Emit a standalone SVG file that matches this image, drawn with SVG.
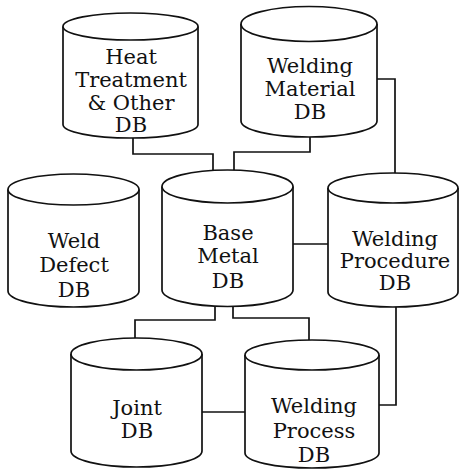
<svg xmlns="http://www.w3.org/2000/svg" width="459" height="469" viewBox="0 0 459 469">
<style>
.cyl{fill:#fff;stroke:#111;stroke-width:1.7}
.lbl{font-family:"DejaVu Serif","Liberation Serif",serif;font-size:21px;fill:#111;text-anchor:middle}
.con{fill:none;stroke:#111;stroke-width:1.7}
</style>
<rect width="459" height="469" fill="#fff"/>
<g id="connectors">
<polyline class="con" points="133,138 133,154 213,154 213,171"/>
<polyline class="con" points="310,137 310,152 234,152 234,171"/>
<polyline class="con" points="377,79 395,79 395,174"/>
<line class="con" x1="293" y1="244" x2="328" y2="244"/>
<polyline class="con" points="215,306 215,320 135,320 135,339"/>
<polyline class="con" points="233,306 233,318 309,318 309,341"/>
<polyline class="con" points="396,306 396,405 379,405"/>
<line class="con" x1="202" y1="412" x2="245" y2="412"/>
</g>
<g id="heat-treatment">
<path class="cyl" d="M63 26.5V124.5A67.5 13.5 0 0 0 198 124.5V26.5"/>
<ellipse class="cyl" cx="130.5" cy="26.5" rx="67.5" ry="13.5"/>
<text class="lbl" x="131" y="64">Heat</text>
<text class="lbl" x="131" y="87">Treatment</text>
<text class="lbl" x="131" y="110">&amp; Other</text>
<text class="lbl" x="131" y="132">DB</text>
</g>
<g id="welding-material">
<path class="cyl" d="M241 24V121A68 16 0 0 0 377 121V24"/>
<ellipse class="cyl" cx="309" cy="24" rx="68" ry="17.5"/>
<text class="lbl" x="310" y="73">Welding</text>
<text class="lbl" x="310" y="96">Material</text>
<text class="lbl" x="310" y="119">DB</text>
</g>
<g id="weld-defect">
<path class="cyl" d="M8 189.5V291A65.5 16 0 0 0 139 291V189.5"/>
<ellipse class="cyl" cx="73.5" cy="189.5" rx="65.5" ry="15.5"/>
<text class="lbl" x="74" y="248">Weld</text>
<text class="lbl" x="74" y="272">Defect</text>
<text class="lbl" x="74" y="297">DB</text>
</g>
<g id="base-metal">
<path class="cyl" d="M162 186.5V290A65.5 16.5 0 0 0 293 290V186.5"/>
<ellipse class="cyl" cx="227.5" cy="186.5" rx="65.5" ry="16.5"/>
<text class="lbl" x="228" y="240">Base</text>
<text class="lbl" x="228" y="263">Metal</text>
<text class="lbl" x="228" y="288">DB</text>
</g>
<g id="welding-procedure">
<path class="cyl" d="M328 188V292A65 15 0 0 0 458 292V188"/>
<ellipse class="cyl" cx="393" cy="188" rx="65" ry="15"/>
<text class="lbl" x="395" y="246">Welding</text>
<text class="lbl" x="395" y="268">Procedure</text>
<text class="lbl" x="395" y="290">DB</text>
</g>
<g id="joint">
<path class="cyl" d="M71 354V451A65.5 16 0 0 0 202 451V354"/>
<ellipse class="cyl" cx="136.5" cy="354" rx="65.5" ry="16"/>
<text class="lbl" x="137" y="415">Joint</text>
<text class="lbl" x="137" y="438">DB</text>
</g>
<g id="welding-process">
<path class="cyl" d="M245 355V453A67 15 0 0 0 379 453V355"/>
<ellipse class="cyl" cx="312" cy="355" rx="67" ry="15"/>
<text class="lbl" x="314" y="413">Welding</text>
<text class="lbl" x="314" y="438">Process</text>
<text class="lbl" x="314" y="462">DB</text>
</g>
</svg>
